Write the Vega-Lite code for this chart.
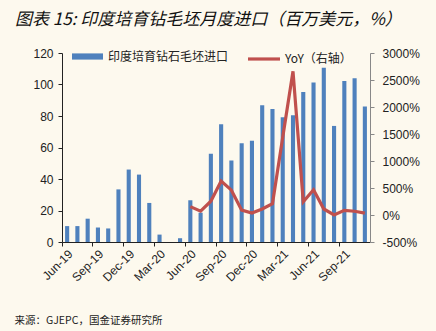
{
  "$schema": "https://vega.github.io/schema/vega-lite/v6.json",
  "width": 308,
  "height": 189,
  "autosize": {"type": "none"},
  "padding": {"left": 62, "top": 53, "right": 66, "bottom": 89},
  "background": "#FDF9EE",
  "title": {
    "text": "图表 15: 印度培育钻毛坯月度进口（百万美元，%）",
    "anchor": "start",
    "frame": "group",
    "dx": -47,
    "offset": 12,
    "font": "Noto Sans CJK SC",
    "fontSize": 17,
    "fontStyle": "italic",
    "fontWeight": "normal",
    "color": "#111"
  },
  "config": {
    "view": {"stroke": null},
    "axis": {"labelFont": "Liberation Sans", "labelColor": "#222", "grid": false}
  },
  "data": {
    "values": [
      {"month": "Jun-19", "imp": 10.1, "yoy": null},
      {"month": "Jul-19", "imp": 10.1, "yoy": null},
      {"month": "Aug-19", "imp": 14.8, "yoy": null},
      {"month": "Sep-19", "imp": 9.2, "yoy": null},
      {"month": "Oct-19", "imp": 8.6, "yoy": null},
      {"month": "Nov-19", "imp": 33.4, "yoy": null},
      {"month": "Dec-19", "imp": 46.0, "yoy": null},
      {"month": "Jan-20", "imp": 42.8, "yoy": null},
      {"month": "Feb-20", "imp": 24.8, "yoy": null},
      {"month": "Mar-20", "imp": 4.7, "yoy": null},
      {"month": "Apr-20", "imp": 0, "yoy": null},
      {"month": "May-20", "imp": 2.4, "yoy": null},
      {"month": "Jun-20", "imp": 26.5, "yoy": 155},
      {"month": "Jul-20", "imp": 18.6, "yoy": 70},
      {"month": "Aug-20", "imp": 56.0, "yoy": 255},
      {"month": "Sep-20", "imp": 74.7, "yoy": 630},
      {"month": "Oct-20", "imp": 51.8, "yoy": 460},
      {"month": "Nov-20", "imp": 62.7, "yoy": 90},
      {"month": "Dec-20", "imp": 64.3, "yoy": 36},
      {"month": "Jan-21", "imp": 86.8, "yoy": 112},
      {"month": "Feb-21", "imp": 84.4, "yoy": 210},
      {"month": "Mar-21", "imp": 79.2, "yoy": 1440},
      {"month": "Apr-21", "imp": 80.5, "yoy": 2660},
      {"month": "May-21", "imp": 95.2, "yoy": 245},
      {"month": "Jun-21", "imp": 101.3, "yoy": 468},
      {"month": "Jul-21", "imp": 110.6, "yoy": 111},
      {"month": "Aug-21", "imp": 73.7, "yoy": 0},
      {"month": "Sep-21", "imp": 102.3, "yoy": 86},
      {"month": "Oct-21", "imp": 103.9, "yoy": 70},
      {"month": "Nov-21", "imp": 86.1, "yoy": 36}
    ]
  },
  "encoding": {
    "x": {
      "field": "month",
      "type": "ordinal",
      "sort": null,
      "scale": {"paddingInner": 0, "paddingOuter": 0},
      "axis": {
        "values": ["Jun-19", "Sep-19", "Dec-19", "Mar-20", "Jun-20", "Sep-20", "Dec-20", "Mar-21", "Jun-21", "Sep-21"],
        "bandPosition": 0,
        "labelAngle": -45,
        "labelAlign": "right",
        "labelBaseline": "top",
        "labelFontSize": 12,
        "labelPadding": 2,
        "domainColor": "#222",
        "tickColor": "#222",
        "tickSize": 4,
        "title": "来源：GJEPC，国金证券研究所",
        "titleFont": "Noto Sans CJK SC",
        "titleFontSize": 10.5,
        "titleFontWeight": "normal",
        "titleColor": "#222",
        "titleAnchor": "start",
        "titleAlign": "left",
        "titleBaseline": "middle",
        "titleX": -48,
        "titleY": 78
      }
    }
  },
  "layer": [
    {
      "mark": {"type": "bar", "width": {"band": 0.4}},
      "encoding": {
        "y": {
          "field": "imp",
          "type": "quantitative",
          "scale": {"domain": [0, 120]},
          "axis": {
            "title": null,
            "values": [0, 20, 40, 60, 80, 100, 120],
            "labelFontSize": 12,
            "domainColor": "#222",
            "tickColor": "#222",
            "tickSize": 4,
            "labelPadding": 5
          }
        },
        "fill": {
          "datum": "印度培育钻石毛坯进口",
          "scale": {"range": ["#4F81BD"]},
          "legend": {
            "title": null,
            "orient": "none",
            "legendX": 10,
            "legendY": -12,
            "symbolType": "M-1,-0.2H1V0.2H-1Z",
            "symbolSize": 961,
            "symbolStrokeWidth": 0,
            "labelFont": "Noto Sans CJK SC",
            "labelFontSize": 12,
            "labelColor": "#222",
            "labelOffset": 5,
            "padding": 0
          }
        }
      }
    },
    {
      "mark": {"type": "line", "strokeWidth": 3.2},
      "encoding": {
        "y": {
          "field": "yoy",
          "type": "quantitative",
          "scale": {"domain": [-500, 3000]},
          "axis": {
            "title": null,
            "orient": "right",
            "values": [-500, 0, 500, 1000, 1500, 2000, 2500, 3000],
            "labelExpr": "datum.value + '%'",
            "labelFontSize": 12,
            "domainColor": "#888",
            "tickColor": "#888",
            "tickSize": 4,
            "labelPadding": 8
          }
        },
        "stroke": {
          "datum": "YoY（右轴）",
          "scale": {"range": ["#C0504D"]},
          "legend": {
            "title": null,
            "orient": "none",
            "legendX": 184,
            "legendY": -12,
            "symbolType": "stroke",
            "symbolSize": 1024,
            "symbolStrokeWidth": 3.2,
            "labelFont": "Noto Sans CJK SC",
            "labelFontSize": 12,
            "labelColor": "#222",
            "labelOffset": 3,
            "padding": 0
          }
        }
      }
    }
  ],
  "resolve": {"scale": {"y": "independent", "fill": "independent", "stroke": "independent"}}
}
